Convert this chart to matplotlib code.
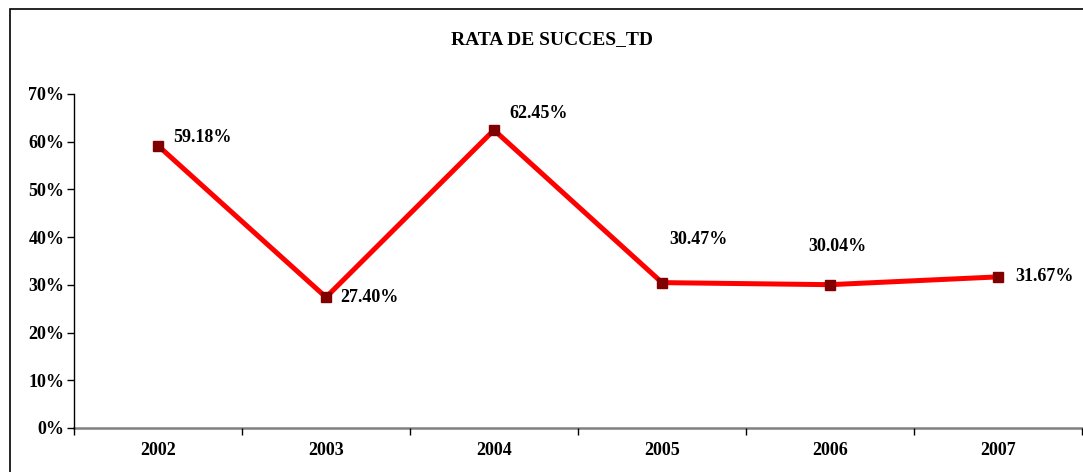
import matplotlib
matplotlib.use("Agg")
import matplotlib.pyplot as plt
from matplotlib.patches import Rectangle
from matplotlib.ticker import FixedLocator, NullFormatter

years = ["2002", "2003", "2004", "2005", "2006", "2007"]
values = [59.18, 27.40, 62.45, 30.47, 30.04, 31.67]
labels = ["59.18%", "27.40%", "62.45%", "30.47%", "30.04%", "31.67%"]
yticks = [0, 10, 20, 30, 40, 50, 60, 70]
title = "RATA DE SUCCES_TD"

plt.rcParams['font.family'] = ['Liberation Serif', 'DejaVu Serif']
plt.rcParams['font.weight'] = 'bold'

W, H = 1083, 472
fig = plt.figure(figsize=(W / 100, H / 100), dpi=100)
fig.patch.set_facecolor("white")
fig.patches.append(Rectangle((10 / W, -0.05), 1.2, 1 - 9 / H + 0.05, transform=fig.transFigure,
                             fill=False, edgecolor="black", linewidth=1.2))

ax = fig.add_axes([74 / W, 1 - 428 / H, (1082 - 74) / W, (428 - 94) / H])
x = list(range(len(years)))
ax.plot(x, values, color="#FF0000", linewidth=3.6, marker="s", markersize=6.8,
        markerfacecolor="#800000", markeredgecolor="#800000", zorder=3)

ax.set_xlim(-0.5, len(years) - 0.5)
ax.set_ylim(0, 70)
ax.set_yticks(yticks)
ax.set_yticklabels([f"{t}%" for t in yticks], fontsize=13, fontweight="bold")
ax.xaxis.set_major_locator(FixedLocator([i - 0.5 for i in range(len(years) + 1)]))
ax.xaxis.set_major_formatter(NullFormatter())
ax.xaxis.set_minor_locator(FixedLocator(x))
ax.set_xticklabels(years, minor=True, fontsize=13, fontweight="bold")
ax.tick_params(axis="x", which="major", length=5, direction="out", width=1, color="black")
ax.tick_params(axis="x", which="minor", length=0, pad=10)
ax.tick_params(axis="y", length=5, direction="out", width=1, pad=2)

for s in ["top", "right"]:
    ax.spines[s].set_visible(False)
ax.spines["left"].set_color("black")
ax.spines["left"].set_linewidth(1)
ax.spines["bottom"].set_color("#808080")
ax.spines["bottom"].set_linewidth(1.8)
ax.spines["bottom"].set_zorder(0.5)

offsets = [(15, 8, "left"), (14, 0, "left"), (15, 17, "left"),
           (7, 43, "left"), (-22, 38, "left"), (17, 0, "left")]
for xi, v, lab, (dx, dy, ha) in zip(x, values, labels, offsets):
    ax.annotate(lab, (xi, v), xytext=(dx * 0.72, dy * 0.72), textcoords="offset points",
                ha=ha, va="center", fontsize=13, fontweight="bold")

fig.text(552 / W, 1 - 40 / H, title, ha="center", va="center", fontsize=14, fontweight="bold")

fig.savefig("out.png", dpi=100, facecolor="white")
